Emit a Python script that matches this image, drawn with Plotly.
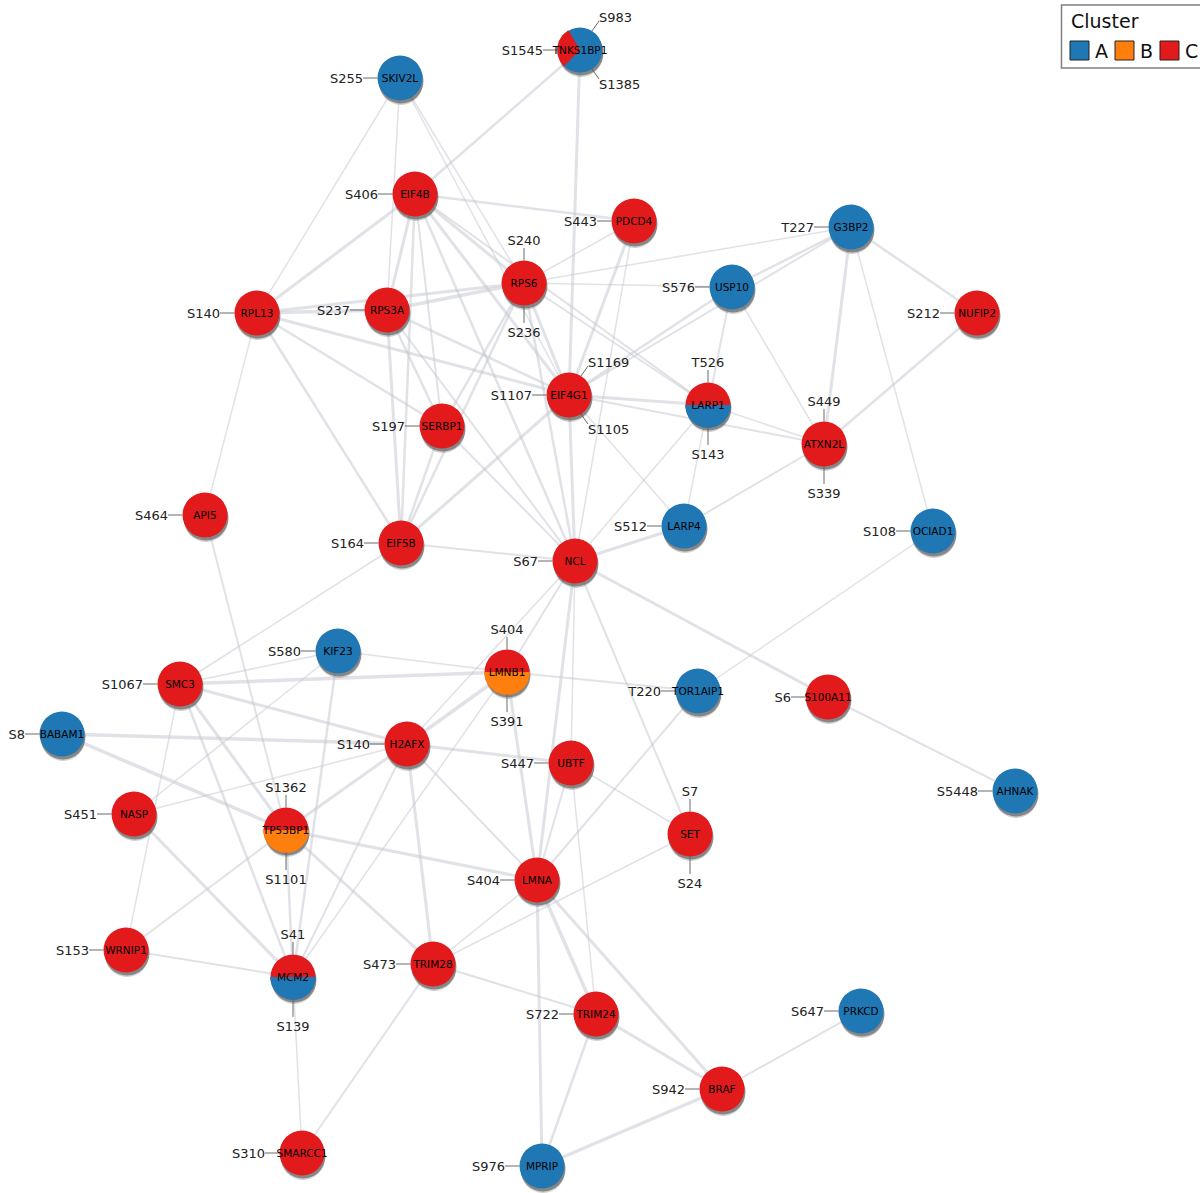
import math
import plotly.graph_objects as go

# ---------------- data ----------------
nodes = ["TNKS1BP1", "SKIV2L", "EIF4B", "PDCD4", "G3BP2", "RPS6", "USP10", "RPL13", "RPS3A", "NUFIP2",
         "EIF4G1", "LARP1", "SERBP1", "ATXN2L", "API5", "LARP4", "OCIAD1", "EIF5B", "NCL", "KIF23",
         "LMNB1", "SMC3", "TOR1AIP1", "S100A11", "BABAM1", "H2AFX", "UBTF", "AHNAK", "NASP", "TP53BP1",
         "SET", "LMNA", "WRNIP1", "MCM2", "TRIM28", "TRIM24", "PRKCD", "BRAF", "SMARCC1", "MPRIP"]
node_x = [580, 400, 415, 634, 851, 524, 732, 257, 387, 977,
          569, 708, 442, 824, 205, 684, 933, 401, 575, 338,
          507, 180, 698, 828, 62, 407, 571, 1015, 134, 286,
          690, 537, 126, 293, 433, 596, 861, 722, 302, 542]
node_y = [50, 78, 194, 221, 227, 283, 287, 313, 310, 313,
          395, 405, 426, 444, 515, 526, 531, 543, 561, 651,
          672, 684, 691, 697, 734, 744, 763, 791, 814, 830,
          834, 880, 950, 977, 964, 1014, 1011, 1089, 1153, 1166]
node_cluster = ["A", "A", "C", "C", "A", "C", "A", "C", "C", "C",
                "C", "C", "C", "C", "C", "A", "A", "C", "C", "A",
                "C", "C", "A", "C", "A", "C", "C", "A", "C", "C",
                "C", "C", "C", "C", "C", "C", "A", "C", "C", "A"]
# nodes belonging to several clusters: (cluster, fraction), start angle (deg)
pie_parts = {
    "TNKS1BP1": [("A", 0.71), ("C", 0.29)],
    "LARP1": [("C", 0.5), ("A", 0.5)],
    "LMNB1": [("C", 0.5), ("B", 0.5)],
    "TP53BP1": [("C", 0.5), ("B", 0.5)],
    "MCM2": [("C", 0.5), ("A", 0.5)],
}
pie_start = {"TNKS1BP1": 225, "LARP1": 0, "LMNB1": 0, "TP53BP1": 0, "MCM2": 0}

cluster_names = ["A", "B", "C"]
cluster_colors = ["#1f77b4", "#ff7f0e", "#e31a1c"]

edge_src = ["SKIV2L", "SKIV2L", "SKIV2L", "SKIV2L", "TNKS1BP1", "TNKS1BP1", "EIF4B", "EIF4B", "EIF4B", "EIF4B",
            "EIF4B", "EIF4B", "EIF4B", "EIF4B", "EIF4B", "RPS6", "RPS6", "RPS6", "RPS6", "RPS6",
            "RPS6", "RPS6", "RPS6", "RPS6", "RPS6", "RPS3A", "RPS3A", "RPS3A", "RPS3A", "RPS3A",
            "RPL13", "RPL13", "RPL13", "RPL13", "EIF4G1", "EIF4G1", "EIF4G1", "EIF4G1", "EIF4G1", "EIF4G1",
            "EIF4G1", "EIF4G1", "PDCD4", "USP10", "USP10", "USP10", "G3BP2", "G3BP2", "G3BP2", "NUFIP2",
            "LARP1", "LARP1", "LARP1", "ATXN2L", "LARP4", "OCIAD1", "SERBP1", "SERBP1", "NCL", "NCL",
            "NCL", "NCL", "NCL", "NCL", "NCL", "S100A11", "EIF5B", "API5", "SMC3", "SMC3",
            "SMC3", "SMC3", "SMC3", "SMC3", "KIF23", "KIF23", "KIF23", "BABAM1", "BABAM1", "H2AFX",
            "H2AFX", "H2AFX", "H2AFX", "H2AFX", "H2AFX", "H2AFX", "LMNB1", "LMNB1", "LMNB1", "TP53BP1",
            "TP53BP1", "TP53BP1", "TP53BP1", "NASP", "WRNIP1", "UBTF", "UBTF", "UBTF", "TOR1AIP1", "SET",
            "LMNA", "LMNA", "LMNA", "LMNA", "TRIM28", "TRIM28", "TRIM24", "TRIM24", "BRAF", "BRAF",
            "MCM2"]
edge_tgt = ["RPL13", "RPS3A", "RPS6", "EIF4G1", "EIF4B", "EIF4G1", "PDCD4", "RPL13", "RPS3A", "RPS6",
            "EIF4G1", "EIF5B", "NCL", "LARP1", "SERBP1", "G3BP2", "USP10", "PDCD4", "RPS3A", "RPL13",
            "EIF4G1", "SERBP1", "EIF5B", "LARP1", "NCL", "RPL13", "EIF4G1", "SERBP1", "EIF5B", "NCL",
            "EIF4G1", "SERBP1", "EIF5B", "API5", "LARP1", "ATXN2L", "USP10", "G3BP2", "PDCD4", "NCL",
            "LARP4", "EIF5B", "NCL", "LARP1", "ATXN2L", "G3BP2", "NUFIP2", "ATXN2L", "OCIAD1", "ATXN2L",
            "LARP4", "NCL", "ATXN2L", "LARP4", "NCL", "TOR1AIP1", "EIF5B", "NCL", "EIF5B", "S100A11",
            "LMNB1", "H2AFX", "UBTF", "LMNA", "SET", "AHNAK", "SMC3", "TP53BP1", "KIF23", "LMNB1",
            "H2AFX", "TP53BP1", "MCM2", "WRNIP1", "LMNB1", "NASP", "MCM2", "H2AFX", "TP53BP1", "LMNB1",
            "UBTF", "NASP", "TP53BP1", "TRIM28", "LMNA", "MCM2", "TOR1AIP1", "LMNA", "MCM2", "LMNA",
            "TRIM28", "WRNIP1", "MCM2", "MCM2", "MCM2", "SET", "LMNA", "TRIM24", "LMNA", "TRIM28",
            "TRIM28", "TRIM24", "BRAF", "MPRIP", "TRIM24", "SMARCC1", "BRAF", "MPRIP", "PRKCD", "MPRIP",
            "SMARCC1"]
edge_weight = [1.5, 1.5, 1.5, 1.5, 2.5, 3, 2.5, 3, 3, 3,
               3, 2.5, 2.5, 2, 2, 1.5, 1.5, 1.5, 3.5, 3,
               3, 2.5, 2.5, 2, 2.5, 3.5, 2.5, 2.5, 3, 2,
               3, 2.5, 2.5, 1.5, 3, 2, 2.5, 2, 3, 3,
               1.5, 3, 1.5, 2, 1.5, 2.5, 2.5, 3, 1.5, 2.5,
               1.5, 1.5, 1.5, 2, 3, 1.5, 2.5, 2, 2, 3,
               2, 1.5, 1.5, 3, 2, 2, 1.5, 2, 1.5, 3.5,
               3, 3, 2.5, 1.5, 1.5, 1.5, 2.5, 3.5, 3.5, 3.5,
               3, 1.5, 3, 3, 2, 2, 2, 3, 1.5, 3,
               3, 2, 2.5, 3, 2, 1.5, 2, 1.5, 2, 1.5,
               1.5, 3.5, 3, 3, 2, 2, 3, 2.5, 2, 3,
               1.5]

site_node = ["TNKS1BP1", "TNKS1BP1", "TNKS1BP1", "SKIV2L", "EIF4B", "PDCD4", "G3BP2", "RPS6", "RPS6", "USP10",
             "RPL13", "RPS3A", "NUFIP2", "EIF4G1", "EIF4G1", "EIF4G1", "LARP1", "LARP1", "SERBP1", "ATXN2L",
             "ATXN2L", "API5", "LARP4", "OCIAD1", "EIF5B", "NCL", "KIF23", "LMNB1", "LMNB1", "SMC3",
             "TOR1AIP1", "S100A11", "BABAM1", "H2AFX", "UBTF", "AHNAK", "NASP", "TP53BP1", "TP53BP1", "SET",
             "SET", "LMNA", "WRNIP1", "MCM2", "MCM2", "TRIM28", "TRIM24", "PRKCD", "BRAF", "SMARCC1",
             "MPRIP"]
site_label = ["S1545", "S983", "S1385", "S255", "S406", "S443", "T227", "S240", "S236", "S576",
              "S140", "S237", "S212", "S1107", "S1169", "S1105", "T526", "S143", "S197", "S449",
              "S339", "S464", "S512", "S108", "S164", "S67", "S580", "S404", "S391", "S1067",
              "T220", "S6", "S8", "S140", "S447", "S5448", "S451", "S1362", "S1101", "S7",
              "S24", "S404", "S153", "S41", "S139", "S473", "S722", "S647", "S942", "S310",
              "S976"]
site_side = ["l", "ur", "lr", "l", "l", "l", "l", "t", "b", "l",
             "l", "l", "l", "l", "ur", "lr", "t", "b", "l", "t",
             "b", "l", "l", "l", "l", "l", "l", "t", "b", "l",
             "l", "l", "l", "l", "l", "l", "l", "t", "b", "t",
             "b", "l", "l", "t", "b", "l", "l", "l", "l", "l",
             "l"]

# ---------------- figure ----------------
W, H = 1200, 1193
R = 22.5
TXT_DY = 1.5  # small vertical nudge of text baselines
pos = {n: (x, y) for n, x, y in zip(nodes, node_x, node_y)}
ccol = dict(zip(cluster_names, cluster_colors))

fig = go.Figure()

# edges grouped by width
for w in sorted(set(edge_weight)):
    xs, ys = [], []
    for s, t, ew in zip(edge_src, edge_tgt, edge_weight):
        if ew != w:
            continue
        xs += [pos[s][0], pos[t][0], None]
        ys += [pos[s][1], pos[t][1], None]
    fig.add_trace(go.Scatter(x=xs, y=ys, mode="lines",
                             line=dict(color="rgba(196,198,208,0.5)", width=w),
                             hoverinfo="skip"))

# connectors of site labels
cx_, cy_ = [], []
tl = {"l": ([], [], []), "t": ([], [], []), "b": ([], [], []), "ur": ([], [], []), "lr": ([], [], [])}
for n, lab, side in zip(site_node, site_label, site_side):
    x, y = pos[n]
    if side == "l":
        cx_ += [x - R, x - 37, None]; cy_ += [y, y, None]
        tx, ty = x - 37, y
    elif side == "t":
        cx_ += [x, x, None]; cy_ += [y - R, y - 35, None]
        tx, ty = x, y - 43
    elif side == "b":
        cx_ += [x, x, None]; cy_ += [y + R, y + 40, None]
        tx, ty = x, y + 49
    elif side == "ur":
        cx_ += [x + 12, x + 19, None]; cy_ += [y - 19, y - 29, None]
        tx, ty = x + 19, y - 33
    else:
        cx_ += [x + 12, x + 19, None]; cy_ += [y + 19, y + 29, None]
        tx, ty = x + 19, y + 34
    tl[side][0].append(tx); tl[side][1].append(ty + TXT_DY); tl[side][2].append(lab)
fig.add_trace(go.Scatter(x=cx_, y=cy_, mode="lines", line=dict(color="#6a6a6a", width=1),
                         hoverinfo="skip"))

# shadows
fig.add_trace(go.Scatter(x=[x + 1 for x in node_x], y=[y + 5 for y in node_y], mode="markers",
                         marker=dict(size=44, color="rgba(120,120,120,0.35)", line=dict(width=0)),
                         hoverinfo="skip"))
fig.add_trace(go.Scatter(x=[x + 1 for x in node_x], y=[y + 3 for y in node_y], mode="markers",
                         marker=dict(size=45, color="rgba(85,85,85,0.6)", line=dict(width=0)),
                         hoverinfo="skip"))

# base node discs
base_col = []
for n, c in zip(nodes, node_cluster):
    if n in pie_parts:
        base_col.append(ccol[pie_parts[n][0][0]])
    else:
        base_col.append(ccol[c])
fig.add_trace(go.Scatter(x=node_x, y=node_y, mode="markers",
                         marker=dict(size=45, color=base_col, line=dict(width=0)),
                         hoverinfo="skip"))

# extra wedges for multi-cluster nodes
wedges = {c: ([], []) for c in cluster_names}
for n, parts in pie_parts.items():
    x0, y0 = pos[n]
    a = pie_start[n]
    for i, (c, f) in enumerate(parts):
        a1 = a + 360 * f
        if i > 0:
            xs, ys = wedges[c]
            steps = 48
            xs.append(x0); ys.append(y0)
            for k in range(steps + 1):
                t = math.radians(a + (a1 - a) * k / steps)
                xs.append(x0 + (R + 0.4) * math.cos(t))
                ys.append(y0 - (R + 0.4) * math.sin(t))
            xs += [x0, None]; ys += [y0, None]
        a = a1
for c in cluster_names:
    xs, ys = wedges[c]
    if xs:
        fig.add_trace(go.Scatter(x=xs, y=ys, mode="lines", fill="toself", fillcolor=ccol[c],
                                 line=dict(width=0, color=ccol[c]), hoverinfo="skip"))

# gene labels
fig.add_trace(go.Scatter(x=node_x, y=[y + TXT_DY for y in node_y], mode="text", text=nodes,
                         textposition="middle center",
                         textfont=dict(family="DejaVu Sans", size=10.5, color="#000000"),
                         hoverinfo="skip"))

# site labels
tp = {"l": "middle left", "t": "middle center", "b": "middle center", "ur": "middle right", "lr": "middle right"}
for side, (xs, ys, labs) in tl.items():
    fig.add_trace(go.Scatter(x=xs, y=ys, mode="text", text=labs, textposition=tp[side],
                             textfont=dict(family="DejaVu Sans", size=13, color="#222222"),
                             hoverinfo="skip"))

# cluster legend box
fig.add_shape(type="rect", xref="x", yref="y", x0=1061.5, x1=1215, y0=5, y1=68,
              line=dict(color="#808080", width=1.5), fillcolor="white", layer="above")
fig.add_annotation(x=1069, y=21, xref="x", yref="y", text="Cluster", showarrow=False,
                   xanchor="left", yanchor="middle", font=dict(family="DejaVu Sans", size=19, color="#111"))
for i, (c, col) in enumerate(zip(cluster_names, cluster_colors)):
    sx = 1070 + i * 45
    fig.add_shape(type="rect", xref="x", yref="y", x0=sx, x1=sx + 19, y0=41, y1=60,
                  line=dict(color="#222", width=1), fillcolor=col, layer="above")
    fig.add_annotation(x=sx + 23, y=51, xref="x", yref="y", text=c, showarrow=False,
                       xanchor="left", yanchor="middle", font=dict(family="DejaVu Sans", size=19, color="#111"))

fig.update_layout(width=W, height=H, margin=dict(l=0, r=0, t=0, b=0),
                  paper_bgcolor="white", plot_bgcolor="white", showlegend=False,
                  xaxis=dict(range=[0, W], visible=False, fixedrange=True),
                  yaxis=dict(range=[H, 0], visible=False, fixedrange=True))
fig.write_html("out.html", config={"displayModeBar": False},
               post_script="document.body.style.margin='0';document.body.style.overflow='hidden';")
